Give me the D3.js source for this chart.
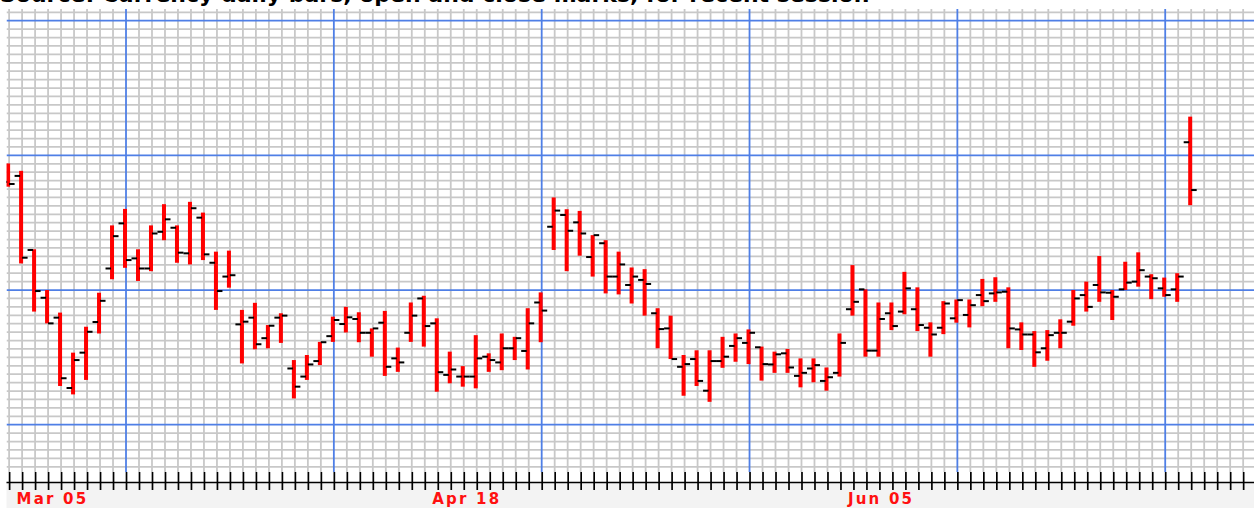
<!DOCTYPE html>
<html><head><meta charset="utf-8">
<script src="https://cdn.jsdelivr.net/npm/d3@7"></script>
<style>html,body{margin:0;padding:0;background:#fff;overflow:hidden}</style>
</head><body><svg id="c" width="1254" height="508"></svg>
<script>
// Daily OHLC bars (bar index 0..91)
const openVals  = [99.21,99.39,97.19,95.77,95.18,93.09,94.14,95.05,96.64,97.98,96.94,96.64,97.73,97.85,97.09,98.15,96.81,96.40,94.98,95.18,94.57,95.18,93.67,93.43,93.89,94.63,94.99,95.14,94.73,95.03,93.97,94.73,95.75,95.01,93.48,93.43,93.43,94.02,93.85,94.27,94.19,95.63,97.88,98.23,98.01,96.98,97.39,96.40,96.15,96.30,95.31,94.86,93.72,93.95,93.01,93.89,94.34,94.43,94.30,93.79,94.12,93.45,93.67,93.30,93.54,95.43,96.02,94.20,95.31,95.36,95.43,94.88,94.88,95.16,95.26,95.85,95.90,95.95,94.83,94.68,94.27,94.73,95.06,95.85,96.15,95.92,96.02,96.25,96.40,96.05,96.02,100.39];
const highVals  = [99.76,99.54,97.21,96.00,95.33,94.14,94.91,95.92,97.92,98.41,97.21,97.92,98.55,97.92,98.62,98.30,97.14,97.17,95.41,95.62,94.96,95.31,93.92,94.07,94.46,95.21,95.50,95.34,94.86,95.38,94.29,95.63,95.83,95.16,94.17,93.74,94.66,94.12,94.71,94.61,95.46,95.93,98.75,98.40,98.35,97.63,97.48,97.14,96.67,96.62,95.46,95.24,94.07,94.21,94.21,94.61,94.71,94.83,94.32,94.17,94.25,93.97,93.97,93.70,94.71,96.74,96.02,95.63,95.63,96.54,96.08,95.04,95.67,95.72,95.72,96.33,96.38,96.08,95.04,94.78,94.81,95.13,96.00,96.25,97.01,96.00,96.84,97.12,96.47,96.37,96.50,101.15];
const lowVals   = [99.07,96.79,95.36,95.01,93.15,92.90,93.33,94.71,96.32,96.66,96.27,96.56,97.48,96.81,96.76,96.89,95.41,96.07,93.82,94.24,94.27,94.43,92.78,93.33,93.77,94.46,94.74,94.45,94.02,93.45,93.57,94.46,94.32,92.98,93.23,93.13,93.08,93.57,93.62,93.92,93.64,94.45,97.19,96.56,97.02,96.40,95.90,95.87,95.60,95.24,94.27,93.95,92.86,93.15,92.68,93.69,93.87,93.80,93.31,93.54,93.54,93.11,93.26,93.01,93.43,95.24,94.02,94.02,94.81,95.28,94.78,94.02,94.69,95.03,94.89,95.52,95.65,94.27,94.22,93.72,93.90,94.27,94.94,95.36,95.65,95.11,96.00,96.10,95.73,95.80,95.65,98.52];
const closeVals = [99.15,96.96,95.97,95.01,93.38,93.92,94.76,95.68,97.60,96.89,96.64,97.68,98.10,97.11,98.43,97.06,95.97,96.44,95.06,94.39,94.94,95.24,93.13,93.79,94.45,95.11,95.19,94.73,94.86,93.72,93.85,95.24,94.93,93.56,93.64,93.43,93.97,93.92,94.27,94.57,95.01,95.39,98.36,97.76,97.68,97.63,96.40,96.76,96.40,96.18,94.84,93.95,93.80,93.30,93.89,94.02,94.57,94.73,93.80,94.09,93.70,93.54,93.77,93.41,94.43,95.65,94.20,95.14,94.93,96.05,94.96,94.68,95.60,95.70,95.55,95.67,95.93,94.86,94.68,94.15,94.66,94.73,95.75,95.50,95.93,95.80,96.22,96.59,96.35,95.85,96.40,98.97];
const tickLabels = ["Mar 05","Apr 18","Jun 05"];
const tickLabelBars = [1,33,65];
const titleText = "Source: Currency daily bars, open and close marks, for recent session";

const W=1254, H=508;
const plot = {left:6.5, top:9, right:1254, bottom:472};
const axisY = 482.5;
const nSlots = 96;

const svg = d3.select("#c");
const x = d3.scaleLinear().domain([0, nSlots-1]).range([9.1, 9.1 + 12.99*(nSlots-1)]);
const y = d3.scaleLinear().domain([92, 104]).range([424.7, 20.7]);

// title (cut off at top, as in the source picture)
svg.append("text").attr("x", 0).attr("y", 2)
  .attr("font-family","DejaVu Sans, Verdana, sans-serif").attr("font-size",22).attr("font-weight","bold")
  .attr("fill","#000").text(titleText);

// bottom panel
svg.append("rect").attr("x", plot.left).attr("y", axisY).attr("width", W-plot.left).attr("height", H-axisY).attr("fill","#f3f3f3");

svg.append("defs").append("clipPath").attr("id","pc").append("rect")
  .attr("x",plot.left).attr("y",plot.top).attr("width",plot.right-plot.left).attr("height",plot.bottom-plot.top);

const grid = svg.append("g").attr("clip-path","url(#pc)");
const hVals = d3.range(362, 419).map(k => k/4);
const slots = d3.range(0, nSlots);
// gray grid
grid.selectAll("line.hg").data(hVals.filter(v => v % 4 !== 0)).join("line")
  .attr("x1",plot.left).attr("x2",plot.right).attr("y1",d=>y(d)).attr("y2",d=>y(d))
  .attr("stroke","#c8c8c8").attr("stroke-width",1.8);
grid.selectAll("line.vg").data(slots.filter(i => (i-9)%16 !== 0)).join("line")
  .attr("y1",plot.top).attr("y2",plot.bottom).attr("x1",d=>x(d)).attr("x2",d=>x(d))
  .attr("stroke","#c8c8c8").attr("stroke-width",1.8);
// blue grid
grid.selectAll("line.hb").data(hVals.filter(v => v % 4 === 0)).join("line")
  .attr("x1",plot.left).attr("x2",plot.right).attr("y1",d=>y(d)).attr("y2",d=>y(d))
  .attr("stroke","#4f7fe6").attr("stroke-width",1.8);
grid.selectAll("line.vb").data(slots.filter(i => (i-9)%16 === 0)).join("line")
  .attr("y1",plot.top).attr("y2",plot.bottom).attr("x1",d=>x(d)).attr("x2",d=>x(d))
  .attr("stroke","#4f7fe6").attr("stroke-width",1.8);

// axis
const axis = d3.axisBottom(x).tickValues(slots).tickSize(8).tickFormat("");
const ag = svg.append("g").attr("transform",`translate(0,${axisY})`).call(axis);
ag.select(".domain").remove();
ag.selectAll(".tick line").attr("y1",-10.5).attr("y2",7.5).attr("stroke","#000").attr("stroke-width",1.7);
svg.append("line").attr("x1",plot.left).attr("x2",W).attr("y1",axisY).attr("y2",axisY).attr("stroke","#000").attr("stroke-width",1.6);

// labels
svg.selectAll("text.lbl").data(tickLabels).join("text")
  .attr("x",(d,i)=>x(tickLabelBars[i]) - 5.5).attr("y",504)
  .attr("font-family","DejaVu Sans, Verdana, sans-serif").attr("font-weight","bold").attr("font-size",15)
  .attr("letter-spacing",2.2).attr("fill","#ff1010").text(d=>d);

// bars
const bars = svg.append("g").attr("clip-path","url(#pc)");
const idx = d3.range(openVals.length);
const cx = i => x(i) - 1;
bars.selectAll("rect.bar").data(idx).join("rect")
  .attr("x",i=>cx(i)-2).attr("width",4)
  .attr("y",i=>y(highVals[i])).attr("height",i=>y(lowVals[i])-y(highVals[i]))
  .attr("fill","#ff0000");
bars.selectAll("rect.op").data(idx).join("rect")
  .attr("x",i=>cx(i)-6.5).attr("width",5.5)
  .attr("y",i=>y(openVals[i])-1).attr("height",2).attr("fill","#000");
bars.selectAll("rect.cl").data(idx).join("rect")
  .attr("x",i=>cx(i)+1).attr("width",5.5)
  .attr("y",i=>y(closeVals[i])-1).attr("height",2).attr("fill","#000");
</script></body></html>
